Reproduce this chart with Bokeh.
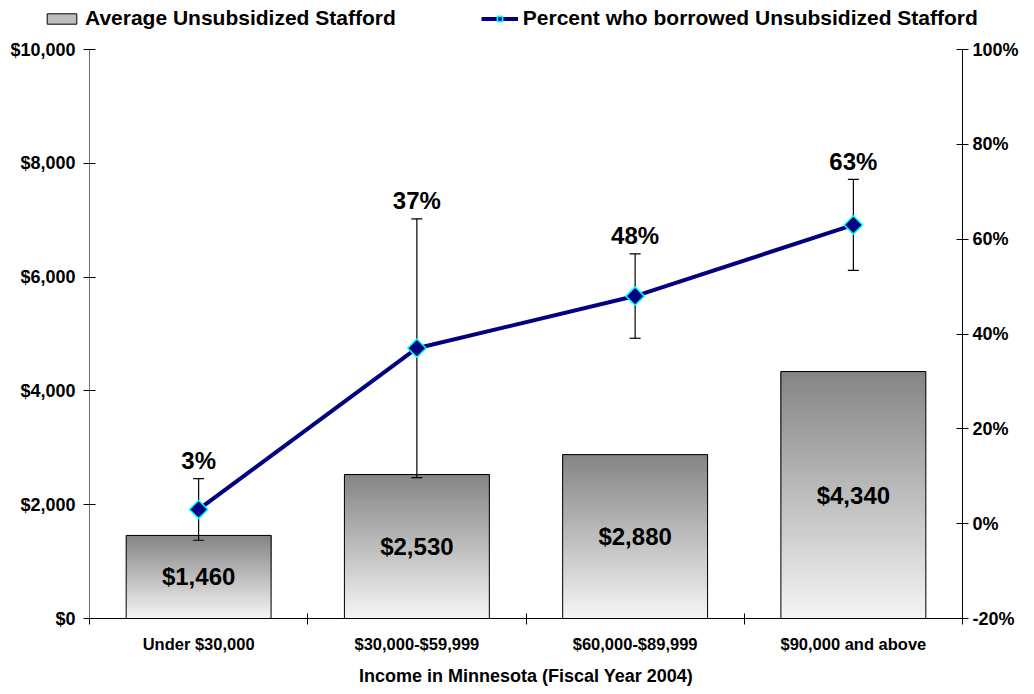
import numpy as np
from bokeh.plotting import figure
from bokeh.layouts import column
from bokeh.models import (Range1d, LinearAxis, FixedTicker, NumeralTickFormatter,
                          PrintfTickFormatter, Legend, LegendItem, ColumnDataSource)
from bokeh.core.properties import value
from bokeh.embed import file_html
from bokeh.resources import INLINE

# ---------------- data ----------------
categories = ["Under $30,000", "$30,000-$59,999", "$60,000-$89,999", "$90,000 and above"]
avg_unsubsidized = [1460, 2530, 2880, 4340]
pct_borrowed = [3, 37, 48, 63]
pct_error = [6.5, 27.3, 8.9, 9.6]
left_ticks = [0, 2000, 4000, 6000, 8000, 10000]
right_ticks = [-20, 0, 20, 40, 60, 80, 100]
series_names = ["Average Unsubsidized Stafford", "Percent who borrowed Unsubsidized Stafford"]

FONT = "Liberation Sans"
BAR_WIDTH = 0.664
N_STRIPS = 60
TOP_RGB = np.array([0x84, 0x84, 0x84])
BOT_RGB = np.array([0xf5, 0xf5, 0xf5])
LINE_COLOR = "#000080"
MARK_EDGE = "#00ffff"
LEG_H = 34

xc = [i + 0.5 for i in range(len(categories))]

# ---------------- legend strip (separate figure above) ----------------
lf = figure(width=1018, height=LEG_H, x_range=Range1d(0, 1), y_range=Range1d(0, 1),
            output_backend="svg", toolbar_location=None,
            x_axis_location=None, y_axis_location=None,
            min_border_left=0, min_border_right=0, min_border_top=0, min_border_bottom=0)
lf.frame_align = False
lf.grid.visible = False
lf.outline_line_color = None
# legend proxies: placed outside the visible range of this strip
lg_bar = lf.quad(left=[2], right=[3], bottom=[2], top=[3], fill_color="#bdbdbd",
                 line_color="black", line_width=1)
lg_line = lf.line(x=[2, 3], y=[2, 2], line_color=LINE_COLOR, line_width=4)
lg_mark = lf.scatter(x=[2], y=[2], marker="square", angle=np.pi / 4, size=10,
                     fill_color=LINE_COLOR, line_color=MARK_EDGE, line_width=1.6)
legend = Legend(items=[LegendItem(label=series_names[0], renderers=[lg_bar]),
                       LegendItem(label=series_names[1], renderers=[lg_line, lg_mark])],
                orientation="horizontal", location=(43, 4),
                glyph_width=37, glyph_height=13, label_standoff=5, spacing=85,
                padding=0, margin=0, border_line_color=None, background_fill_alpha=0,
                label_text_font=FONT, label_text_font_size="21px",
                label_text_font_style="bold", label_text_color="black", label_height=20)
lf.add_layout(legend, "center")

# ---------------- main chart ----------------
p = figure(frame_width=873, frame_height=569, x_range=Range1d(0, 4), y_range=Range1d(0, 10000),
           output_backend="svg", toolbar_location=None,
           min_border_left=89, min_border_right=56, min_border_top=49 - LEG_H,
           min_border_bottom=60)
p.frame_align = False
p.outline_line_color = None
p.grid.visible = False
p.background_fill_color = "white"
p.border_fill_color = "white"
p.extra_y_ranges = {"pct": Range1d(-20, 100)}

# gradient bars
lefts, rights, bottoms, tops, colors = [], [], [], [], []
for x, v in zip(xc, avg_unsubsidized):
    for k in range(N_STRIPS):
        t = (k + 0.5) / N_STRIPS
        rgb = BOT_RGB + (TOP_RGB - BOT_RGB) * t
        lefts.append(x - BAR_WIDTH / 2)
        rights.append(x + BAR_WIDTH / 2)
        bottoms.append(v * k / N_STRIPS)
        tops.append(v)
        colors.append("#%02x%02x%02x" % tuple(int(round(c)) for c in rgb))
p.quad(left=lefts, right=rights, bottom=bottoms, top=tops, fill_color=colors,
       line_color=None)
bar_src = ColumnDataSource(dict(left=[x - BAR_WIDTH / 2 for x in xc],
                                right=[x + BAR_WIDTH / 2 for x in xc],
                                top=avg_unsubsidized, bottom=[0] * len(xc),
                                x=xc, mid=[v / 2 for v in avg_unsubsidized],
                                label=["${:,}".format(v) for v in avg_unsubsidized]))
p.quad(left="left", right="right", bottom="bottom", top="top", source=bar_src,
       fill_color=None, line_color="black", line_width=1)
p.text(x="x", y="mid", text="label", source=bar_src, text_align="center",
       text_baseline="middle", text_font=value(FONT), text_font_size="24px",
       text_font_style="bold", text_color="black")

# error bars
err_src = ColumnDataSource(dict(x=xc, y=pct_borrowed,
                                upper=[a + e for a, e in zip(pct_borrowed, pct_error)],
                                lower=[a - e for a, e in zip(pct_borrowed, pct_error)],
                                label=["%d%%" % v for v in pct_borrowed]))
p.segment(x0="x", y0="lower", x1="x", y1="upper", source=err_src, y_range_name="pct",
          line_color="black", line_width=1.2)
p.scatter(x="x", y="upper", source=err_src, y_range_name="pct", marker="dash",
          size=11, line_color="black", line_width=1.2)
p.scatter(x="x", y="lower", source=err_src, y_range_name="pct", marker="dash",
          size=11, line_color="black", line_width=1.2)

# line with markers
p.line(x="x", y="y", source=err_src, y_range_name="pct", line_color=LINE_COLOR,
       line_width=4)
p.scatter(x="x", y="y", source=err_src, y_range_name="pct", marker="square",
          angle=np.pi / 4, size=13, fill_color=LINE_COLOR, line_color=MARK_EDGE,
          line_width=1.6)
p.text(x="x", y="upper", text="label", source=err_src, y_range_name="pct",
       text_align="center", text_baseline="alphabetic", y_offset=-18,
       text_font=value(FONT), text_font_size="24px", text_font_style="bold",
       text_color="black")

# axes
xa = p.xaxis[0]
xa.ticker = FixedTicker(ticks=xc, minor_ticks=[0, 1, 2, 3, 4])
xa.major_label_overrides = {x: c for x, c in zip(xc, categories)}
xa.major_tick_line_color = None
xa.major_tick_in = 0
xa.major_tick_out = 6
xa.minor_tick_line_color = "black"
xa.minor_tick_in = 5
xa.minor_tick_out = 6
xa.axis_line_color = "black"
xa.major_label_standoff = 10
xa.major_label_text_font = FONT
xa.major_label_text_font_size = "16.5px"
xa.major_label_text_font_style = "bold"
xa.major_label_text_color = "black"
xa.axis_label = "Income in Minnesota (Fiscal Year 2004)"
xa.axis_label_text_font = FONT
xa.axis_label_text_font_size = "18px"
xa.axis_label_text_font_style = "bold"
xa.axis_label_text_color = "black"
xa.axis_label_standoff = 10

ya = p.yaxis[0]
ya.ticker = FixedTicker(ticks=left_ticks)
ya.formatter = NumeralTickFormatter(format="$0,0")
ya.minor_tick_line_color = None
ya.major_tick_in = 6
ya.major_tick_out = 6
ya.major_label_standoff = 8
ya.axis_line_color = "#707070"
ya.major_label_text_font = FONT
ya.major_label_text_font_size = "18px"
ya.major_label_text_font_style = "bold"
ya.major_label_text_color = "black"

ra = LinearAxis(y_range_name="pct", ticker=FixedTicker(ticks=right_ticks),
                formatter=PrintfTickFormatter(format="%d%%"))
ra.minor_tick_line_color = None
ra.major_tick_in = 6
ra.major_tick_out = 6
ra.major_label_standoff = 4
ra.axis_line_color = "black"
ra.major_label_text_font = FONT
ra.major_label_text_font_size = "18px"
ra.major_label_text_font_style = "bold"
ra.major_label_text_color = "black"
p.add_layout(ra, "right")

layout = column(lf, p, spacing=0)
open("out.html", "w").write(file_html(layout, INLINE))
